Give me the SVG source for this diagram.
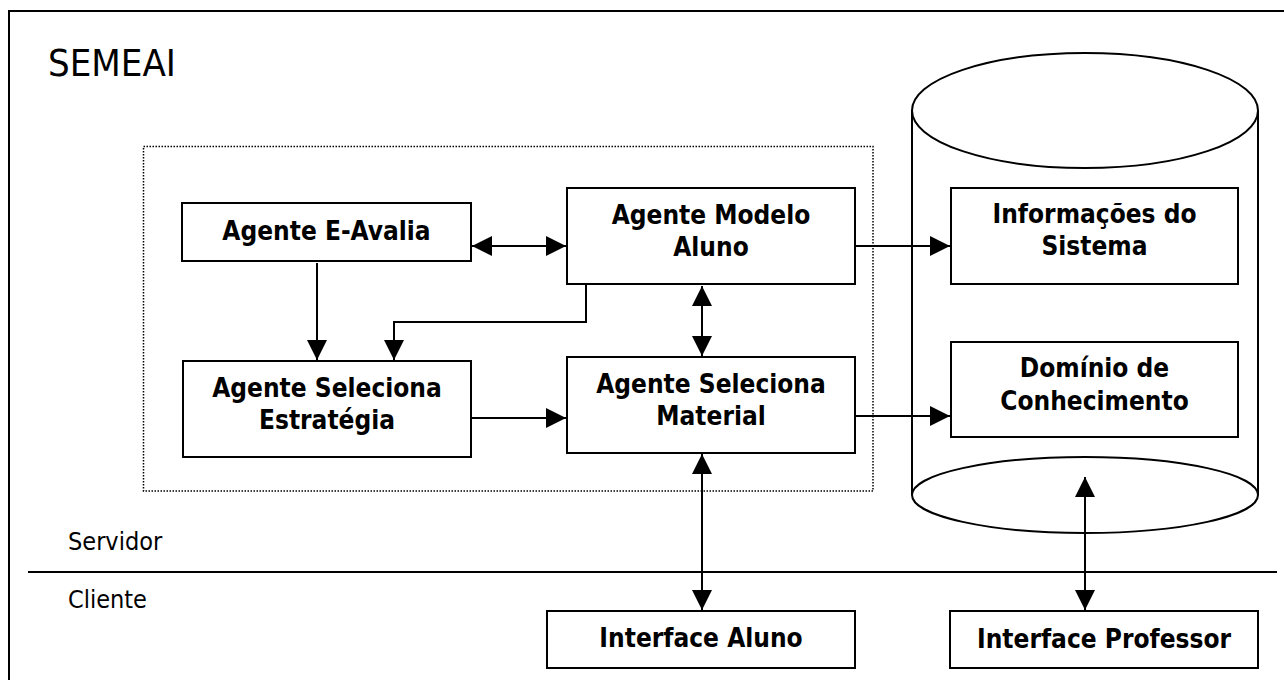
<svg xmlns="http://www.w3.org/2000/svg" width="1284" height="680" viewBox="0 0 1284 680">
  <style>
    .box { fill: #fff; stroke: #000; stroke-width: 2; }
    .lbl { font-family: "DejaVu Sans Condensed", "DejaVu Sans", sans-serif; font-weight: bold; font-size: 26px; fill: #000; text-anchor: middle; }
    .plain { font-family: "DejaVu Sans Condensed", "DejaVu Sans", sans-serif; fill: #000; }
    .wire { fill: none; stroke: #000; stroke-width: 2; }
    .shape { fill: #fff; stroke: #000; stroke-width: 2; }
  </style>
  <defs>
    <marker id="head" markerUnits="userSpaceOnUse" markerWidth="20" markerHeight="20" viewBox="0 0 20 20" refX="20" refY="10" orient="auto-start-reverse">
      <path d="M0,0 L20,10 L0,20 Z" fill="#000"/>
    </marker>
  </defs>

  <rect width="1284" height="680" fill="#fff"/>

  <!-- outer frame and server/client split -->
  <g id="frame">
    <rect x="9" y="11" width="1300" height="700" fill="none" stroke="#000" stroke-width="2"/>
    <line x1="28" y1="572" x2="1277" y2="572" stroke="#000" stroke-width="2"/>
    <text class="plain" x="48" y="76" font-size="38">SEMEAI</text>
    <text class="plain" x="68" y="550" font-size="25">Servidor</text>
    <text class="plain" x="68" y="608" font-size="25">Cliente</text>
  </g>

  <!-- agent group boundary -->
  <rect id="agents" x="143.5" y="146.5" width="729.5" height="344.5" fill="none" stroke="#000" stroke-width="1.5" stroke-dasharray="1.5 1.5"/>

  <!-- database cylinder -->
  <g id="database">
    <line x1="912" y1="110.5" x2="912" y2="495" class="wire"/>
    <line x1="1258" y1="110.5" x2="1258" y2="495" class="wire"/>
    <ellipse cx="1085" cy="110.5" rx="173" ry="57.5" class="shape"/>
    <ellipse cx="1085" cy="495" rx="173" ry="38" class="shape"/>
  </g>

  <g id="agente-e-avalia">
    <rect class="box" x="182" y="203" width="289" height="58"/>
    <text class="lbl" x="326.5" y="240">Agente E-Avalia</text>
  </g>

  <g id="agente-modelo-aluno">
    <rect class="box" x="567" y="188" width="288" height="96"/>
    <text class="lbl" x="711" y="224">Agente Modelo</text>
    <text class="lbl" x="711" y="256">Aluno</text>
  </g>

  <g id="agente-seleciona-estrategia">
    <rect class="box" x="183" y="361" width="288" height="96"/>
    <text class="lbl" x="327" y="397">Agente Seleciona</text>
    <text class="lbl" x="327" y="429">Estratégia</text>
  </g>

  <g id="agente-seleciona-material">
    <rect class="box" x="567" y="357" width="288" height="96"/>
    <text class="lbl" x="711" y="393">Agente Seleciona</text>
    <text class="lbl" x="711" y="425">Material</text>
  </g>

  <g id="informacoes-sistema">
    <rect class="box" x="951" y="188" width="287" height="96"/>
    <text class="lbl" x="1094.5" y="223">Informações do</text>
    <text class="lbl" x="1094.5" y="255">Sistema</text>
  </g>

  <g id="dominio-conhecimento">
    <rect class="box" x="951" y="342" width="287" height="95"/>
    <text class="lbl" x="1094.5" y="377">Domínio de</text>
    <text class="lbl" x="1094.5" y="410">Conhecimento</text>
  </g>

  <g id="interface-aluno">
    <rect class="box" x="547" y="611" width="308" height="57"/>
    <text class="lbl" x="701" y="647">Interface Aluno</text>
  </g>

  <g id="interface-professor">
    <rect class="box" x="950" y="611" width="308" height="57"/>
    <text class="lbl" x="1104" y="648">Interface Professor</text>
  </g>

  <g id="connectors" class="wire">
    <line x1="472" y1="246" x2="566" y2="246" marker-start="url(#head)" marker-end="url(#head)"/>
    <line x1="855" y1="246" x2="950" y2="246" marker-end="url(#head)"/>
    <line x1="702" y1="286" x2="702" y2="356" marker-start="url(#head)" marker-end="url(#head)"/>
    <line x1="317" y1="263" x2="317" y2="360" marker-end="url(#head)"/>
    <polyline points="586,285 586,322 394,322 394,360" marker-end="url(#head)"/>
    <line x1="471" y1="418" x2="566" y2="418" marker-end="url(#head)"/>
    <line x1="855" y1="416" x2="950" y2="416" marker-end="url(#head)"/>
    <line x1="702" y1="454" x2="702" y2="610" marker-start="url(#head)" marker-end="url(#head)"/>
    <line x1="1085" y1="477" x2="1085" y2="610" marker-start="url(#head)" marker-end="url(#head)"/>
  </g>
</svg>
